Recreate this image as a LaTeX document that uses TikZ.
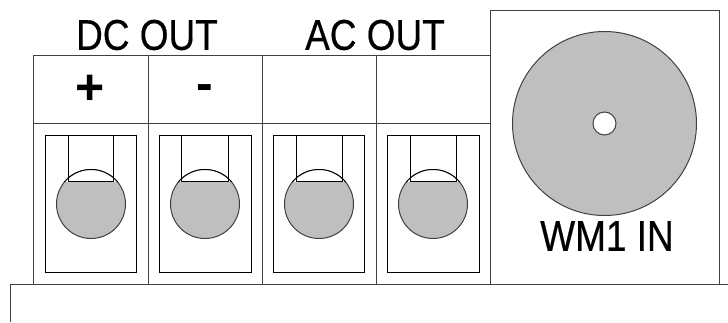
\documentclass[tikz,border=0pt]{standalone}
\usepackage{fontspec}
\setmainfont{Liberation Sans}
\newfontfamily\boldishfont[FakeBold=0.5]{Liberation Sans}
\definecolor{padgray}{HTML}{BFBFBF}
\begin{document}
\begin{tikzpicture}[x=1pt,y=-1pt,line width=1pt]
\tikzset{panel line/.style={draw=black!75}}
\tikzset{pad/.style={draw=black!75,fill=padgray}}
\tikzset{big label/.style={font=\fontsize{43}{43}\selectfont\boldishfont,xscale=.86,inner sep=0pt,text=black}}
\tikzset{sign label/.style={font=\fontsize{50}{50}\selectfont\bfseries,inner sep=0pt,text=black}}
\useasboundingbox (0,0) rectangle (728,322);

% base and outer panel
\draw[panel line] (10.5,322) -- (10.5,284) -- (728,284);
\draw[panel line] (33.5,284) -- (33.5,55) -- (490.5,55);
\draw[panel line] (33.5,123) -- (490.5,123);
\draw[panel line] (490.5,284) -- (490.5,10) -- (719.5,10) -- (719.5,284);
\foreach \x in {148,262.5,376}
  \draw[panel line] (\x,55) -- (\x,284);

% terminals
\foreach \name/\l/\r/\sl/\sr/\c in {plus/45/136.5/68.5/113/91,minus/159.5/251/181.5/228/205,acone/273/364.5/296/342.5/319,actwo/387.5/479/410.5/456/433}{
  \draw[draw=black] (\l,135) rectangle (\r,272);
  \draw[pad] (\c,204) circle (34.5);
  \begin{scope}
    \clip (\l,135) rectangle (\r,181);
    \draw[draw=black,fill=white] (\c,204) circle (34.5);
  \end{scope}
  \draw[draw=black] (\sl,135) -- (\sl,181) -- (\sr,181) -- (\sr,135);
}

% WM1 connector
\draw[pad] (604.5,123.5) circle (92);
\draw[draw=black!75,fill=white] (604.5,123.5) circle (11.5);

\node[big label] (dcout) at (147,35) {DC OUT};
\node[big label] (acout) at (375,35) {AC OUT};
\node[big label] (wmin) at (607,236) {WM1 IN};
\node[sign label] (plussign) at (90.5,90) {+};
\node[sign label] (minussign) at (205,93) {-};
\end{tikzpicture}
\end{document}
